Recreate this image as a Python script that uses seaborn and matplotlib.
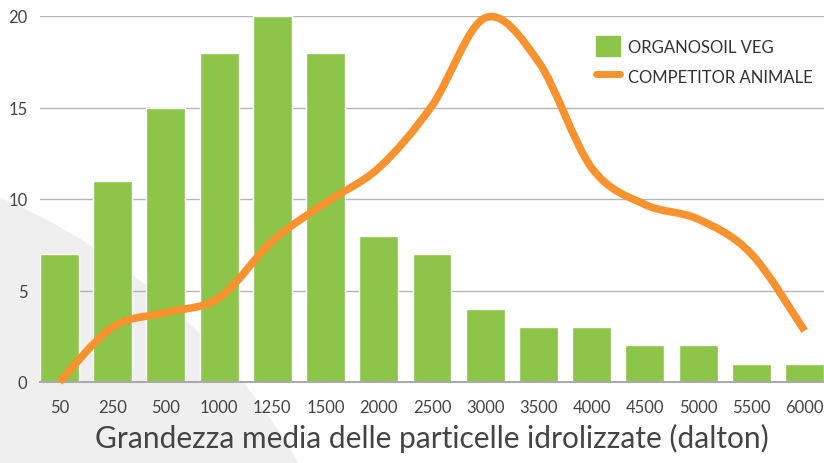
import seaborn as sns
import matplotlib.pyplot as plt
import pandas as pd
import numpy as np
from matplotlib.path import Path
from matplotlib.patches import PathPatch, Circle
from matplotlib.lines import Line2D
from matplotlib.patches import Patch

dimensioni = ["50", "250", "500", "1000", "1250", "1500", "2000", "2500",
              "3000", "3500", "4000", "4500", "5000", "5500", "6000"]
organosoil_veg = [7, 11, 15, 18, 20, 18, 8, 7, 4, 3, 3, 2, 2, 1, 1]
competitor_animale = [0, 3.0, 3.8, 4.6, 7.7, 9.8, 11.7, 15.1, 19.9, 17.5,
                      11.7, 9.7, 8.9, 7.0, 2.8]

verde = "#8CC54A"
arancio = "#F7922E"

sns.set_theme(style="white")
plt.rcParams['font.family'] = ['Lato', 'DejaVu Sans']

df = pd.DataFrame({"dim": dimensioni, "veg": organosoil_veg})

fig = plt.figure(figsize=(8.24, 4.64), dpi=100)

# sfondo grigio (cerchio grande in basso a sinistra)
bg = fig.add_axes([0, 0, 1, 1], zorder=-1)
bg.set_xlim(0, 824)
bg.set_ylim(464, 0)
bg.axis("off")
bg.add_patch(Circle((-250, 780), 633, color="#EFEFEF", lw=0))

ax = fig.add_axes([40 / 824, 81 / 464, 784 / 824, 366 / 464])
ax.patch.set_alpha(0)
sns.barplot(data=df, x="dim", y="veg", color=verde, width=0.73,
            saturation=1, ax=ax, zorder=2)

# linea smussata (bezier tipo excel)
x = np.arange(len(competitor_animale), dtype=float)
y = np.array(competitor_animale, dtype=float)
verts = [(x[0], y[0])]
codes = [Path.MOVETO]
t = 1 / 6
for i in range(len(x) - 1):
    p0 = np.array([x[max(i - 1, 0)], y[max(i - 1, 0)]])
    p1 = np.array([x[i], y[i]])
    p2 = np.array([x[i + 1], y[i + 1]])
    p3 = np.array([x[min(i + 2, len(x) - 1)], y[min(i + 2, len(x) - 1)]])
    c1 = p1 + (p2 - p0) * t
    c2 = p2 - (p3 - p1) * t
    verts += [tuple(c1), tuple(c2), tuple(p2)]
    codes += [Path.CURVE4] * 3
ax.add_patch(PathPatch(Path(verts, codes), fill=False, edgecolor=arancio,
                       lw=5.5, capstyle="butt", zorder=3, clip_on=False))

ax.set_xlim(-0.365, 14.365)
ax.set_ylim(0, 20)
ax.set_yticks([0, 5, 10, 15, 20])
ax.grid(axis="y", color="#B5B5B5", lw=1, zorder=0)
ax.set_axisbelow(True)
for s in ["top", "right", "left"]:
    ax.spines[s].set_visible(False)
ax.spines["bottom"].set_color("#AAAAAA")
ax.spines["bottom"].set_linewidth(1.5)
ax.tick_params(axis="both", length=0, labelsize=12, labelcolor="#444444")
ax.tick_params(axis="x", pad=12)
ax.tick_params(axis="y", pad=9)
ax.set_ylabel("")
ax.set_xlabel("Grandezza media delle particelle idrolizzate (dalton)",
              fontsize=21.5, color="#444444", labelpad=6)

handles = [Patch(color=verde, label="ORGANOSOIL VEG"),
           Line2D([], [], color=arancio, lw=5, label="COMPETITOR ANIMALE")]
leg = ax.legend(handles=handles, loc="upper left", bbox_to_anchor=(0.69, 0.985),
                frameon=False, fontsize=12, handlelength=1.45, handleheight=1.45,
                labelspacing=0.6, handletextpad=0.5)
for t_ in leg.get_texts():
    t_.set_color("#333333")

fig.savefig("out.png", dpi=100)
